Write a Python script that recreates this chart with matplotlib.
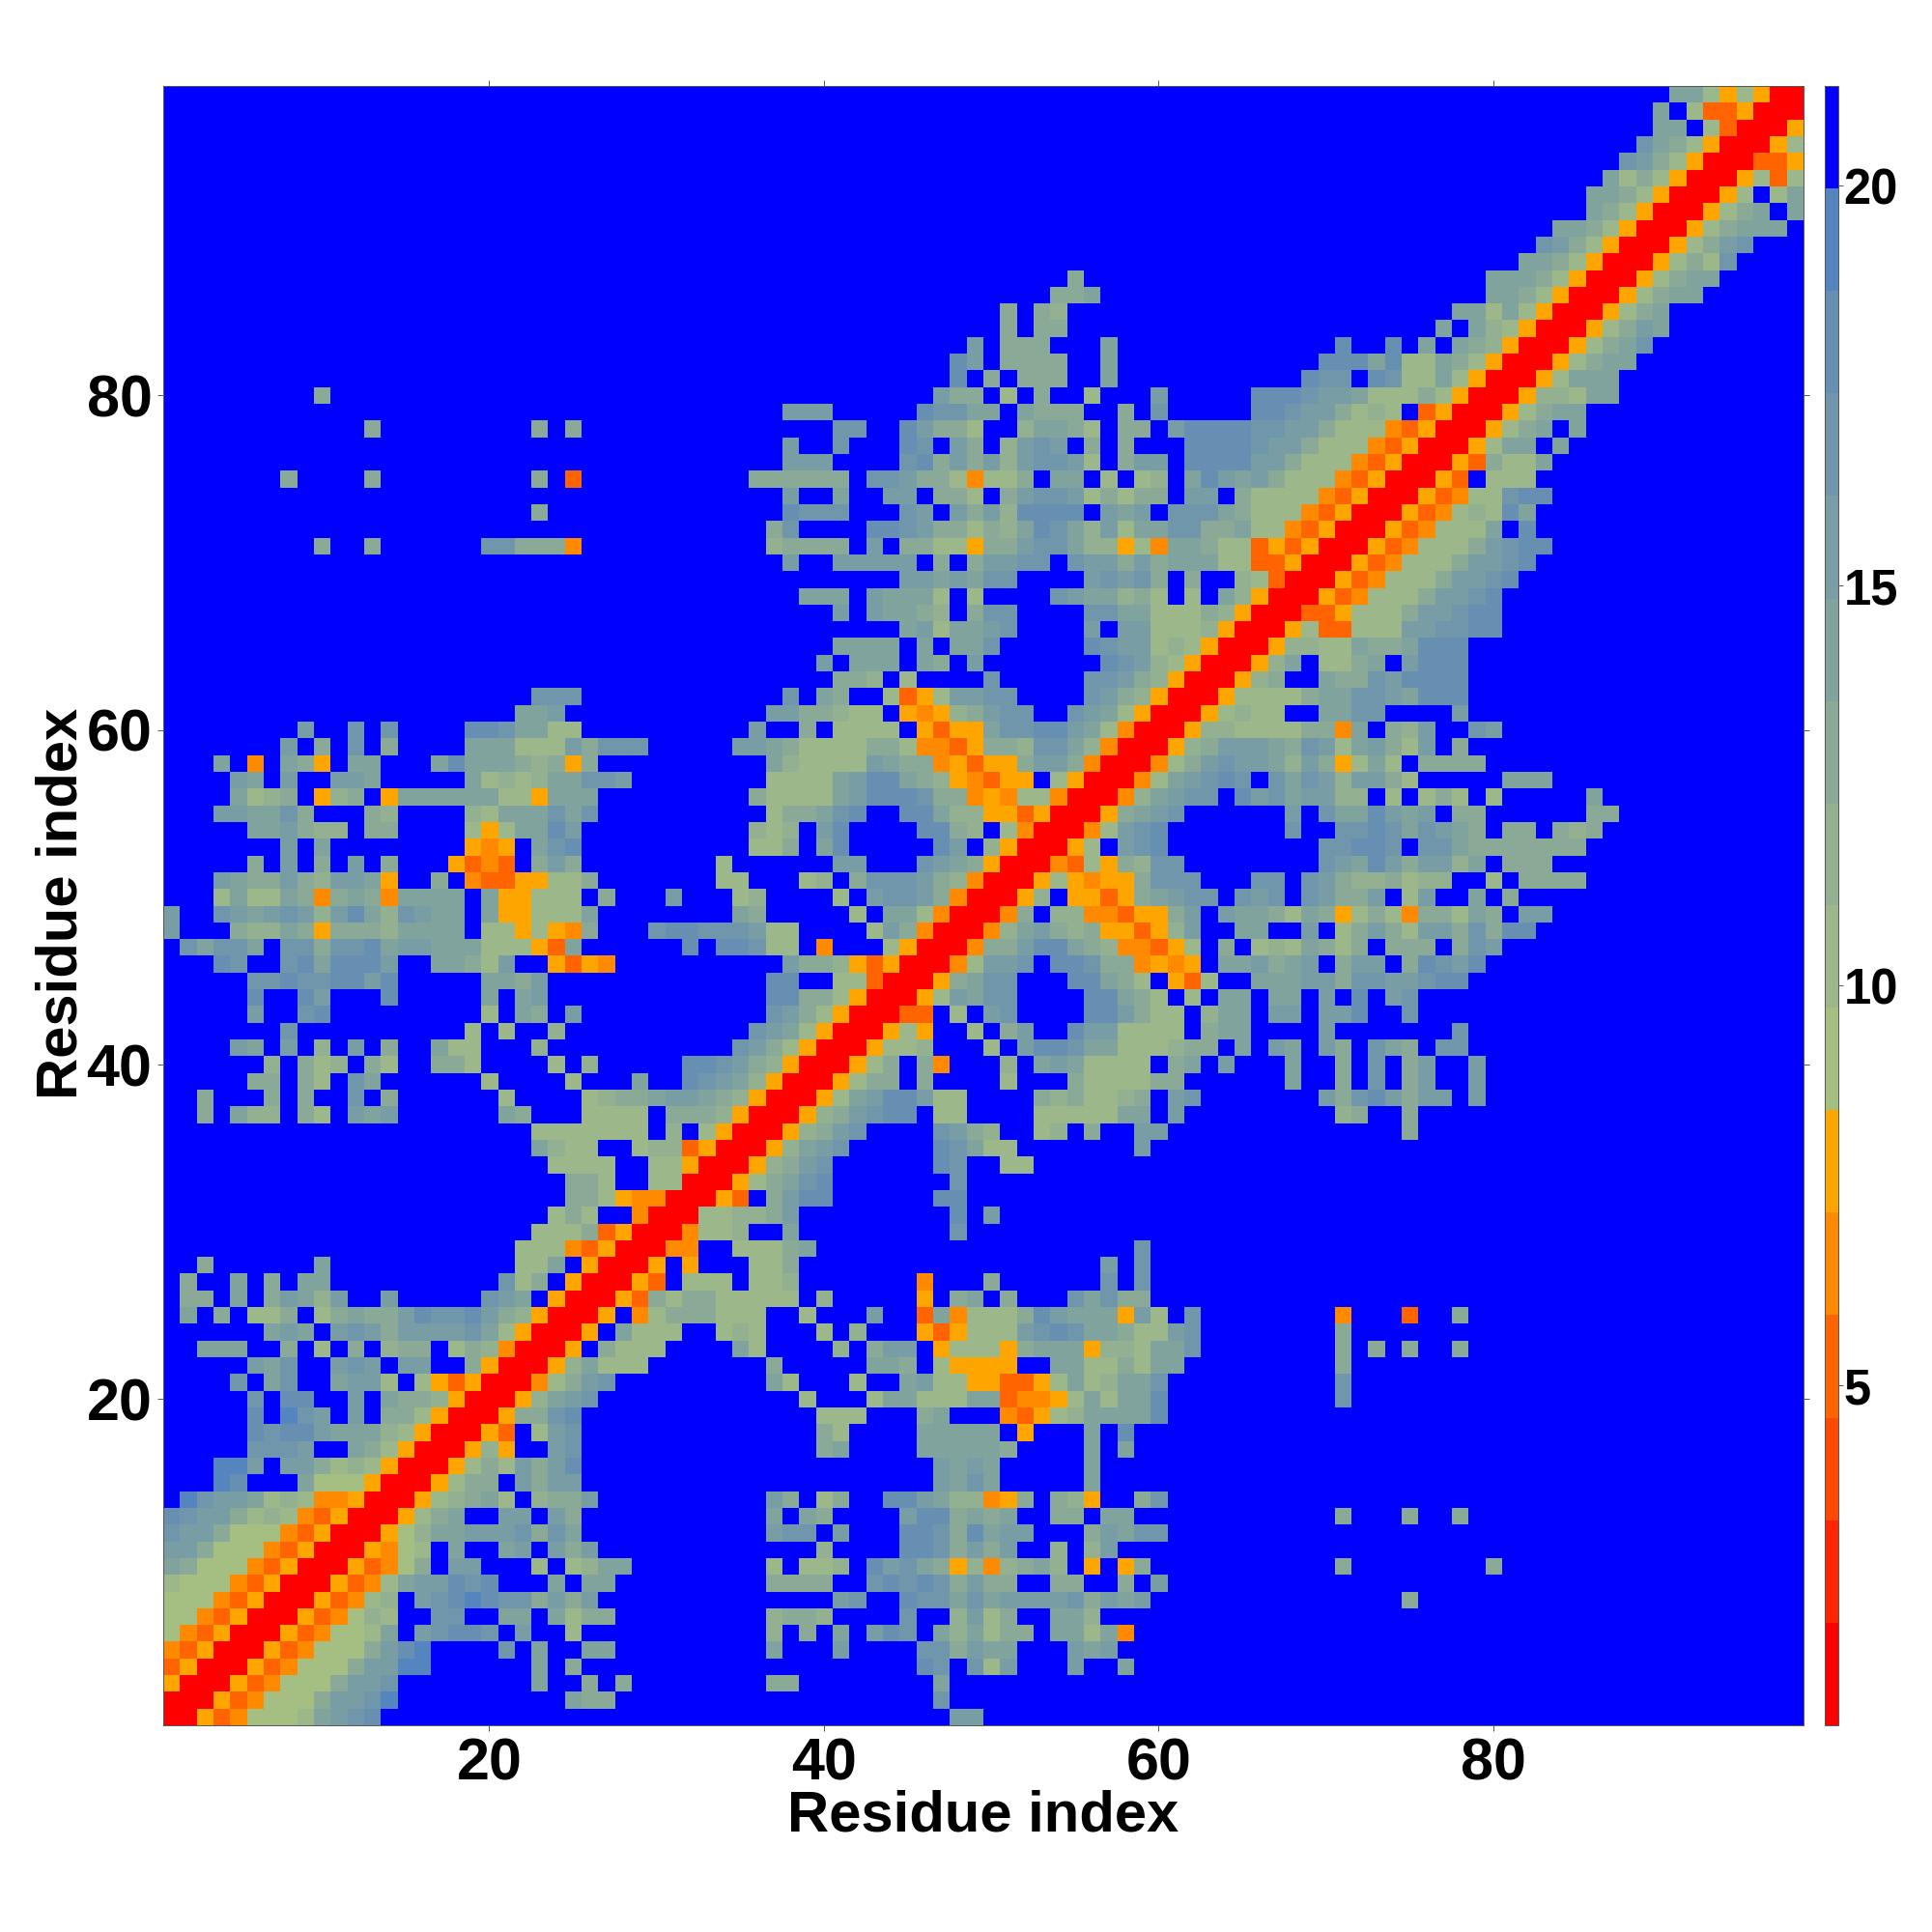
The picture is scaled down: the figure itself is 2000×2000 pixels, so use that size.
import numpy as np
import matplotlib
matplotlib.use("Agg")
import matplotlib.pyplot as plt
from matplotlib.colors import ListedColormap, BoundaryNorm

plt.rcParams['font.family'] = ['Liberation Sans', 'DejaVu Sans']
plt.rcParams['font.weight'] = 'bold'

n_res = 98

# distance classes: one char per class, blue '.' is the far background
level_chars = "123456789abcdef."
level_values = [1.4, 2.7, 4.0, 5.2, 6.5, 7.8, 9.1, 10.4, 11.6, 12.9, 14.2, 15.5, 16.8, 18.0, 19.3, 20.6]
level_colors = ['#ff0000', '#ff2400', '#ff4800', '#ff6400', '#ff8a00', '#ffa500',
                '#a5be82', '#9cb789', '#93b190', '#8aaa97', '#81a39e', '#789da4',
                '#6f96ab', '#668fb2', '#5585be', '#0000ff']
level_edges = [0.75, 2.03, 3.31, 4.59, 5.88, 7.16, 8.44, 9.72, 11.0, 12.28, 13.56, 14.84,
               16.13, 17.41, 18.69, 19.97, 21.25]

# lower triangle, row by row from residue 1: "col:classes" pieces, the rest is background
rows = [
    "1:1", "1:11", "1:611", "1:4611", "1:54611", "1:754611", "1:7754611", "1:77754611",
    "1:877754611", "1:ba77754611", "1:cca77754611", "1:dcca77754611", "1:edcca89854611",
    "1:.fdccb89855611", "1:...fe...b777611", "1:...ffc.cca898611", "1:.....dddc..ba8611",
    "1:.....edeecbbb98611", "1:.....e.fdc.c.aa8611", "1:.....d.ee..c.baa9611",
    "1:....d.bd..bcc8.864611", "1:.....cbd..cdc.cc..a611", "1:..bbb..a.8.a.9aa.8a9511",
    "1:......bcb.cdcaccccdb8611", "1:.b.a.88a.8abaaceddeca9611", "1:.aa.b.acb9c..c.....dcb.611",
    "1:.a..b.a.bb..........d8a.611", "3:a 10:b 22:88b.611", "22:88854611", "23:888a4611",
    "24:8a8..511", "25:aa865511", "25:aa8..8811", "24:8888..88611", "23:b988..8994611",
    "23:8888888.9.8611",
    "3:a.b99.a8.cbc 21:ba 26:8888.aaa9611",
    "3:a 7:a.a 12:d.a 21:8 26:89aabccba9611",
    "6:aa.a8.db 20:8 25:8 29:b 32:edcb9611",
    "7:9.a89.a8 17:aa8 24:8 26:9 32:eedca9611",
    "5:cb.c.9.c.a 17:b88 23:9 35:dca8611",
    "8:d 19:8.8 24:9 36:dcb8611",
    "6:c 9:de 20:8.ba.c 37:dca8611",
    "6:e 9:ec 14:e 20:b.bc 37:eeaa8611",
    "6:ddeddeece 20:bbac 37:ee..88411",
    "4:ed..debeeec 17:bba8c..6465 38:caa964611",
    "2:dbddb.ddaddebccbbb88864b 32:e.eed88.5...8611",
    "1:c 5:a99ba6aaa9bbbb.886865a 30:deedddc88....8ca511",
    "1:c 4:dcbcdc9ceb9dcbb.b66888b 35:ba.....8.bb8511",
    "4:8b88ba5aba5bbbb.b66888.a 31:c 35:89....8.cddca511",
    "4:cbaaca9ccb6..a.5446688a 34:88...89.adddca9511",
    "6:a.c.a.c.a 18:6454.aca 34:8......cc...dcba611",
    "8:c.b 19:656.bde 36:88a.be.....ec.9611",
    "6:bbca99.aa 19:868bbec 36:989.ce....eea9.8511",
    "4:ccbbda...a9 19:98bbbdbd 37:8aabde..eeb99664611",
    "5:b89a.69a.6bbbbbb886bbb 36:a8888bceeedaa56588511",
    "5:cb.c..ccb 19:b8989bbddc 37:8888bceeba965466.8611",
    "4:b.5.ba6.bb 17:bebbba9a6a 37:b98888cbaa56466acca511",
    "8:c.a.d.a 19:bbb888caddd 35:ccba8888aa85546aa9ddb9511",
    "9:c..d.d 19:eedbb88 36:c..a.8888.6466bddeecb8511",
    "22:bbc 37:ccaa988.6569acdd..dcb8611",
    "23:ddd 38:d.ba..8468ccdd....dca9611",
    "41:aa9.8....d.....ddca9611",
    "40:c.bbb.ba.c.......edc98611",
    "41:bbbb.b.bbd.....edcc898611",
    "45:bc8bbcd....c.cc8889611",
    "41:c.cbba9.add....ddbb888a9611",
    "39:bbb.cbbb8.8....dcbb9a8.8.b9611",
    "45:ccbcbdd....cdcda.a..98411",
    "38:c..ccccc.a.accdd.dccacabbb8844611",
    "10:a..a 20:ddaaa5 37:9aaaa.c.aa886aacddb99685bba88464611",
    "37:ad....eedcaa8a9bedb9c8bbddaab8854611",
    "23:a 38:eddd...dc.cac9eeee.cbc.dddba88854611",
    "38:c..b..cc.aa8.acddc8a8aa.cc.a888854611",
    "8:a 13:a 23:a.4 36:aaaaaa.ddcaa8588a.bb.8.89.becbca88854611",
    "38:ccc....deacac9cddc8.acc.eeeecca88854611",
    "38:c..d...ed.ca.9cdc.a.a...eeeedcca88854611",
    "13:a 23:a.a 41:dd..ecaa8..9bba8.aa.ceeeeddcca88854611",
    "38:ccc.....eddbb.baaa..a.d.....eedcca898.4611",
    "10:a 47:caa.8.a..8...c.....eeedccb888a8611",
    "48:e.a.aaa..b...........edd.ed88b8611",
    "48:ec.aaaa..b 70:eeebe88ba8611",
    "49:c.aaa...b 71:e..e.b.ba9611",
    "51:a.aa 77:b.b98611",
    "51:a.a9 78:bb8b8611",
    "54:aab 80:bba8611",
    "55:a 80:bbba8611",
    "82:bba8611", "83:dca8611", "84:bba8611", "86:ba8611", "86:bba8611", "87:b8a8611",
    "88:dca8611", "89:dba8611", "90:bb.8411", "90:b.844611", "91:bb868611",
]

far = level_values[-1]
dist = np.full((n_res, n_res), far)
for i, row in enumerate(rows):
    for piece in row.split():
        col, chars = piece.split(":")
        for j, ch in enumerate(chars):
            c = int(col) - 1 + j
            v = level_values[level_chars.index(ch)]
            dist[i, c] = v
            dist[c, i] = v

cmap = ListedColormap(level_colors)
norm = BoundaryNorm(level_edges, cmap.N)

W = 2000.0
fig = plt.figure(figsize=(20, 20), dpi=100)
ax = fig.add_axes([168.5 / W, 1 - 1786 / W, 1698 / W, 1697 / W])
cax = fig.add_axes([1889 / W, 1 - 1786 / W, 14 / W, 1697 / W])

im = ax.imshow(dist, origin='lower', extent=[0.5, 98.5, 0.5, 98.5], aspect='auto',
               cmap=cmap, norm=norm, interpolation='nearest')

ax.set_xticks([20, 40, 60, 80])
ax.set_yticks([20, 40, 60, 80])
ax.tick_params(axis='both', which='major', top=True, right=True, length=4.5, width=0.7,
               color='#555555', labelsize=44)
ax.tick_params(axis='x', pad=4.5)
ax.tick_params(axis='y', pad=3.5)
for spine in ax.spines.values():
    spine.set_linewidth(0.7)
    spine.set_color('#555555')

fig.text(1018 / W, 1 - 1880 / W, "Residue index", fontsize=43, fontweight='bold',
         ha='center', va='center')
fig.text(64 / W, 1 - 935 / W, "Residue index", fontsize=43, fontweight='bold',
         ha='center', va='center', rotation=90)

cb = fig.colorbar(im, cax=cax, spacing='proportional', ticks=[5, 10, 15, 20])
cb.ax.minorticks_off()
cb.ax.tick_params(length=3.6, width=0.7, color='#555555', labelsize=36.5, pad=0.5)
cb.outline.set_linewidth(0.7)
cb.outline.set_edgecolor('#555555')

fig.savefig("out.png", dpi=100)
